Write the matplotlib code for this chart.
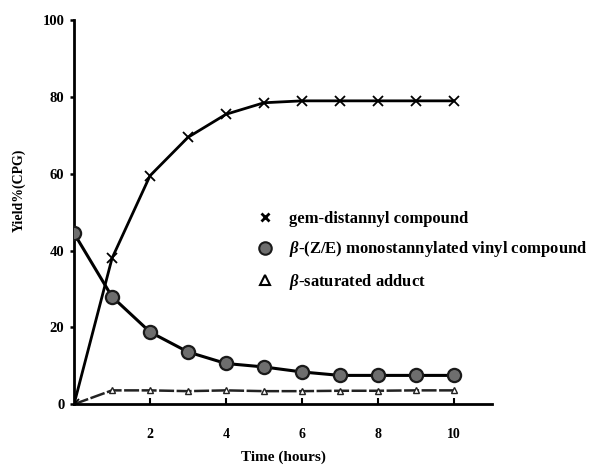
import numpy as np
import matplotlib.pyplot as plt
from matplotlib.lines import Line2D

plt.rcParams['font.family'] = ['Liberation Serif', 'DejaVu Serif']
plt.rcParams['font.weight'] = 'bold'
plt.rcParams['mathtext.fontset'] = 'custom'
plt.rcParams['mathtext.it'] = 'Liberation Serif:italic:bold'
plt.rcParams['mathtext.rm'] = 'Liberation Serif:bold'

# data
hours = [0, 1, 2, 3, 4, 5, 6, 7, 8, 9, 10]
gem = [0, 38, 59.5, 69.5, 75.5, 78.5, 79, 79, 79, 79, 79]
mono = [44.5, 28, 18.8, 13.6, 10.6, 9.7, 8.4, 7.5, 7.5, 7.5, 7.5]
satd = [0, 3.6, 3.6, 3.4, 3.6, 3.4, 3.4, 3.5, 3.5, 3.6, 3.6]

labels = ['gem-distannyl compound',
          r'$\beta$-(Z/E) monostannylated vinyl compound',
          r'$\beta$-saturated adduct']

fig = plt.figure(figsize=(6.02, 4.70), dpi=100)
ax = fig.add_axes([0.123, 0.14, 0.694, 0.817])

ax.plot(hours, satd, color='#222222', lw=1.8, ls=(0, (6, 1)), marker='^',
        ms=4, mfc='white', mec='#222222', zorder=2)
ax.plot(hours, gem, color='black', lw=2, marker='x', ms=7, mew=1.3, zorder=3)
ax.plot(hours, mono, color='black', lw=2.2, marker='o', ms=9.5,
        mfc='#6e6e6e', mec='#1a1a1a', mew=1.6, zorder=4)

ax.set_xlim(0, 11)
ax.set_ylim(0, 100)
ax.set_xticks([2, 4, 6, 8, 10])
ax.set_yticks([0, 20, 40, 60, 80, 100])
for s in ['top', 'right']:
    ax.spines[s].set_visible(False)
for s in ['left', 'bottom']:
    ax.spines[s].set_linewidth(2)
ax.tick_params(axis='x', direction='in', length=4, width=1.5, pad=17, labelsize=10)
ax.tick_params(axis='y', direction='out', length=3, width=1.8, pad=4, labelsize=10.5)
for t in ax.get_xticklabels() + ax.get_yticklabels():
    t.set_fontweight('bold')

ax.set_xlabel('Time (hours)', fontsize=11, fontweight='bold', labelpad=7)
fig.text(0.032, 0.595, 'Yield%(CPG)', rotation=90, fontsize=10,
         fontweight='bold', ha='center', va='center')

handles = [
    Line2D([], [], ls='none', marker='x', color='black', ms=6, mew=2),
    Line2D([], [], ls='none', marker='o', ms=9, mfc='#6e6e6e', mec='#1a1a1a', mew=1.5),
    Line2D([], [], ls='none', marker='^', ms=7, mfc='white', mec='black', mew=1.5),
]
leg = fig.legend(handles, labels, loc='upper left', bbox_to_anchor=(0.402, 0.583),
                 frameon=False, handlelength=1, handletextpad=0.9, labelspacing=0.75,
                 prop={'family': 'Liberation Serif', 'weight': 'bold', 'size': 12})

fig.savefig('out.png', dpi=100)
